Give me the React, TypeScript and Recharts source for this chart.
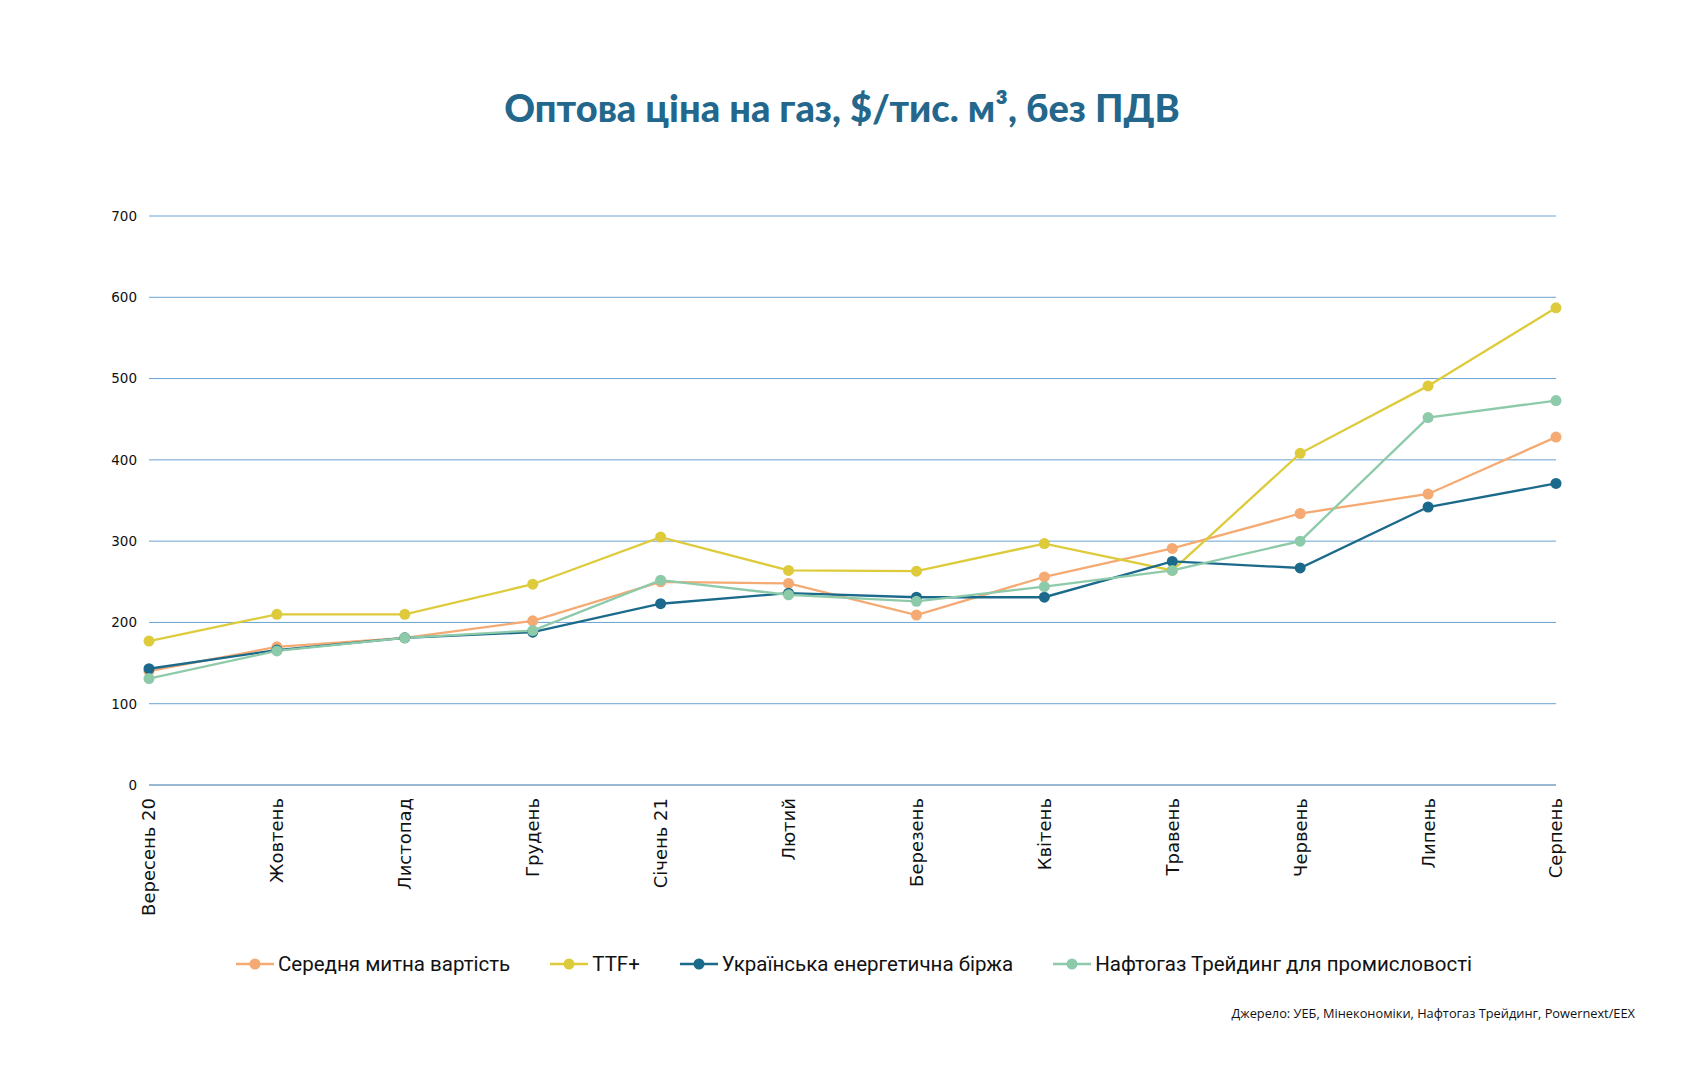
import { CartesianGrid, Line, LineChart, XAxis, YAxis } from "recharts"

const months = [
    "Вересень 20", "Жовтень", "Листопад", "Грудень", "Січень 21", "Лютий",
    "Березень", "Квітень", "Травень", "Червень", "Липень", "Серпень",
]

// $/тис. м³ by month
const customsValue = [140, 170, 181, 202, 250, 248, 209, 256, 291, 334, 358, 428]
const ttfPlus = [177, 210, 210, 247, 305, 264, 263, 297, 264, 408, 491, 587]
const ueb = [143, 166, 181, 188, 223, 236, 231, 231, 275, 267, 342, 371]
const naftogaz = [131, 165, 181, 190, 252, 234, 226, 244, 264, 300, 452, 473]

const yTicks = [0, 100, 200, 300, 400, 500, 600, 700]

const series = [
    { key: "customs", name: "Середня митна вартість", color: "#F4AA72" },
    { key: "ttf", name: "TTF+", color: "#DDCB3B" },
    { key: "ueb", name: "Українська енергетична біржа", color: "#1C6A8B" },
    { key: "naftogaz", name: "Нафтогаз Трейдинг для промисловості", color: "#8DCAAA" },
]

const data = months.map((month, i) => ({
    month,
    customs: customsValue[i],
    ttf: ttfPlus[i],
    ueb: ueb[i],
    naftogaz: naftogaz[i],
}))

const MonthTick = (props: any) => {
    const { x, y, payload } = props
    return (
        <text
            x={x}
            y={y}
            transform={`rotate(-90, ${x}, ${y})`}
            textAnchor="end"
            dy="0.36em"
            fontSize={18}
            fontFamily="DejaVu Sans"
            fill="#111"
        >
            {payload.value}
        </text>
    )
}

export default function App() {
    return (
        <div style={{ position: "absolute", left: 0, top: 0, width: 1684, height: 1080, background: "#fff" }}>
            <div
                style={{
                    position: "absolute", left: 0, top: 84, width: 1684, textAlign: "center",
                    fontFamily: "Lato", fontWeight: 900, fontSize: 38, color: "#24678C",
                }}
            >
                Оптова ціна на газ, $/тис. м³, без ПДВ
            </div>

            <LineChart
                width={1684}
                height={1080}
                data={data}
                margin={{ top: 216, right: 128, bottom: 175, left: 89 }}
            >
                <CartesianGrid horizontal vertical={false} stroke="#6AA3D2" strokeWidth={1} />
                <XAxis
                    dataKey="month"
                    axisLine={{ stroke: "#7E9EB8" }}
                    tickLine={false}
                    tick={<MonthTick />}
                    tickMargin={7}
                    interval={0}
                    height={120}
                />
                <YAxis
                    domain={[0, 700]}
                    ticks={yTicks}
                    axisLine={false}
                    tickLine={false}
                    tickMargin={6}
                    width={60}
                    tick={{ fontSize: 13.5, fontFamily: "DejaVu Sans", fill: "#111" }}
                />
                {series.map(s => (
                    <Line
                        key={s.key}
                        dataKey={s.key}
                        name={s.name}
                        stroke={s.color}
                        strokeWidth={2.3}
                        dot={{ r: 5.5, fill: s.color, stroke: s.color, strokeWidth: 0 }}
                        activeDot={false}
                        isAnimationActive={false}
                    />
                ))}
            </LineChart>

            <div
                style={{
                    position: "absolute", left: 236, top: 952, display: "flex", alignItems: "center",
                    fontFamily: "Roboto", fontSize: 20.5, color: "#111",
                }}
            >
                {series.map(s => (
                    <div key={s.key} style={{ display: "flex", alignItems: "center", marginRight: 40 }}>
                        <svg width={38} height={14} style={{ marginRight: 4 }}>
                            <line x1={0} y1={7} x2={38} y2={7} stroke={s.color} strokeWidth={2.5} />
                            <circle cx={19} cy={7} r={5.5} fill={s.color} />
                        </svg>
                        <span>{s.name}</span>
                    </div>
                ))}
            </div>

            <div
                style={{
                    position: "absolute", right: 49, top: 1004,
                    fontFamily: "Open Sans", fontSize: 12.8, color: "#111",
                }}
            >
                Джерело: УЕБ, Мінекономіки, Нафтогаз Трейдинг, Powernext/EEX
            </div>
        </div>
    )
}
